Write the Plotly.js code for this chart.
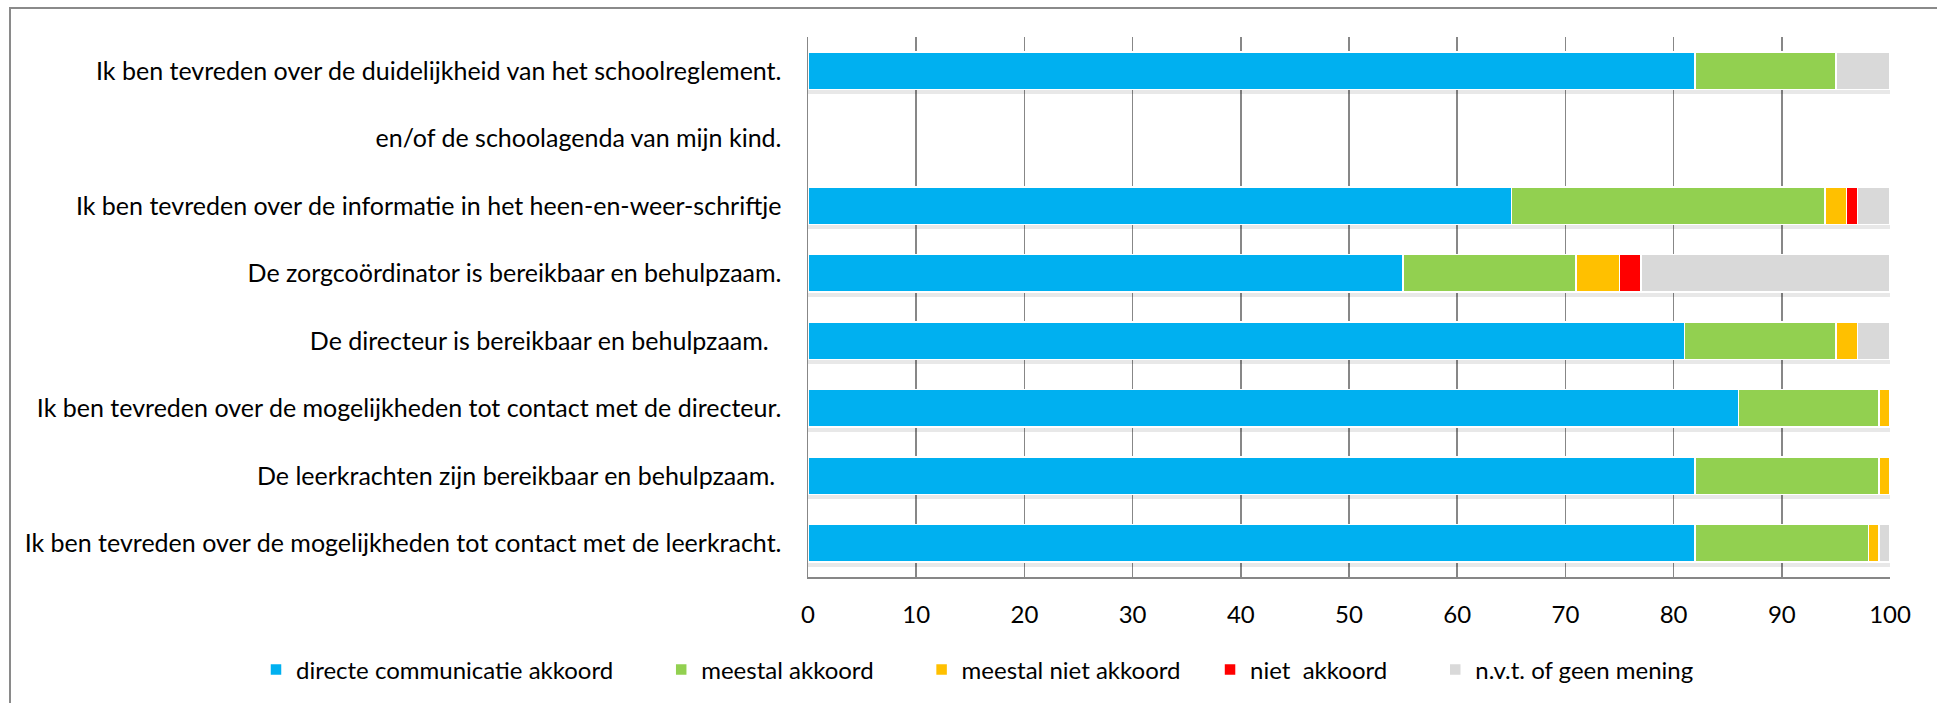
<!DOCTYPE html>
<html>
<head>
<meta charset="utf-8">
<script src="https://cdn.plot.ly/plotly-3.0.1.min.js"></script>
<style>
html,body{margin:0;padding:0;background:#fff;}
#chart{width:1937px;height:703px;}
</style>
</head>
<body>
<div id="chart"></div>
<script>
const categories = [
  "Ik ben tevreden over de duidelijkheid van het schoolreglement.",
  "en/of de schoolagenda van mijn kind.",
  "Ik ben tevreden over de informatie in het heen-en-weer-schriftje",
  "De zorgcoördinator is bereikbaar en behulpzaam.",
  "De directeur is bereikbaar en behulpzaam.\u00a0\u00a0",
  "Ik ben tevreden over de mogelijkheden tot contact met de directeur.",
  "De leerkrachten zijn bereikbaar en behulpzaam.\u00a0",
  "Ik ben tevreden over de mogelijkheden tot contact met de leerkracht."
];
const seriesNames = [
  "directe communicatie akkoord",
  "meestal akkoord",
  "meestal niet akkoord",
  "niet  akkoord",
  "n.v.t. of geen mening"
];
const directAkkoord   = [82, null, 65, 55, 81, 86, 82, 82];
const meestalAkkoord  = [13, null, 29, 16, 14, 13, 17, 16];
const meestalNiet     = [0,  null, 2,  4,  2,  1,  1,  1];
const nietAkkoord     = [0,  null, 1,  2,  0,  0,  0,  0];
const nvt             = [5,  null, 3,  23, 3,  0,  0,  1];
const xTicks = [0, 10, 20, 30, 40, 50, 60, 70, 80, 90, 100];

const seriesValues = [directAkkoord, meestalAkkoord, meestalNiet, nietAkkoord, nvt];
const colors = ["#00B0F0", "#92D050", "#FFC000", "#FF0000", "#D9D9D9"];
const legendPadCounts = [7, 7, 4, 7, 0];

const totals = categories.map((c, i) => {
  let s = 0, any = false;
  seriesValues.forEach(v => { if (v[i] != null) { s += v[i]; any = true; } });
  return any ? s : null;
});

const FONT = "Lato, 'Open Sans', sans-serif";
const shift = 0.07;

const traces = [{
  type: "bar", orientation: "h", x: totals, y: categories,
  xaxis: "x", yaxis: "y",
  marker: {color: "rgba(0,0,0,0.09)", line: {width: 0}},
  showlegend: false, hoverinfo: "skip"
}];
seriesValues.forEach((vals, k) => {
  traces.push({
    type: "bar", orientation: "h",
    name: seriesNames[k] + "\u00a0".repeat(legendPadCounts[k]),
    x: vals, y: categories, xaxis: "x", yaxis: "y2",
    marker: {color: colors[k], line: {color: "#ffffff", width: 1.5}}
  });
});

const L = 808, R = 1890, T = 37, B = 578;
const pw = R - L, ph = B - T;
const layout = {
  width: 1937, height: 703,
  margin: {l: L, r: 1937 - R, t: T, b: 703 - B, pad: 0},
  paper_bgcolor: "#ffffff", plot_bgcolor: "#ffffff",
  barmode: "stack", bargap: 0.445,
  font: {family: FONT, size: 24, color: "#000000"},
  xaxis: {
    range: [0, 100], tickvals: xTicks, ticktext: xTicks.map(String),
    showgrid: true, gridcolor: "#878787", gridwidth: 1.5,
    showline: true, linecolor: "#878787", linewidth: 1.5,
    zeroline: false, ticks: "outside", ticklen: 16, tickcolor: "rgba(0,0,0,0)",
    tickfont: {family: FONT, size: 24, color: "#000"}, fixedrange: true
  },
  yaxis: {
    type: "category", categoryorder: "array", categoryarray: categories,
    range: [categories.length - 0.5 - shift, -0.5 - shift],
    showgrid: false, showline: false, zeroline: false,
    showticklabels: false, ticks: "", fixedrange: true
  },
  yaxis2: {
    type: "category", categoryorder: "array", categoryarray: categories,
    range: [categories.length - 0.5, -0.5], overlaying: "y", side: "left",
    showgrid: false, showline: true, linecolor: "#878787", linewidth: 1.5,
    zeroline: false, ticks: "outside", ticklen: 20, tickcolor: "rgba(0,0,0,0)",
    tickfont: {family: FONT, size: 25, color: "#000"}, fixedrange: true
  },
  legend: {
    orientation: "h", xref: "paper", yref: "paper",
    x: (256 - L) / pw, xanchor: "left",
    y: (B - 670) / ph, yanchor: "middle",
    font: {family: FONT, size: 24, color: "#000"},
    itemwidth: 30, traceorder: "normal", bgcolor: "rgba(0,0,0,0)"
  },
  shapes: [{
    type: "rect", xref: "paper", yref: "paper",
    x0: (10 - L) / pw, x1: (1960 - L) / pw,
    y0: (B - 730) / ph, y1: (B - 8) / ph,
    line: {color: "#8a8a8a", width: 2}, fillcolor: "rgba(0,0,0,0)", layer: "below"
  }],
  showlegend: true
};

Plotly.newPlot("chart", traces, layout, {displayModeBar: false, staticPlot: true});
</script>
</body>
</html>
